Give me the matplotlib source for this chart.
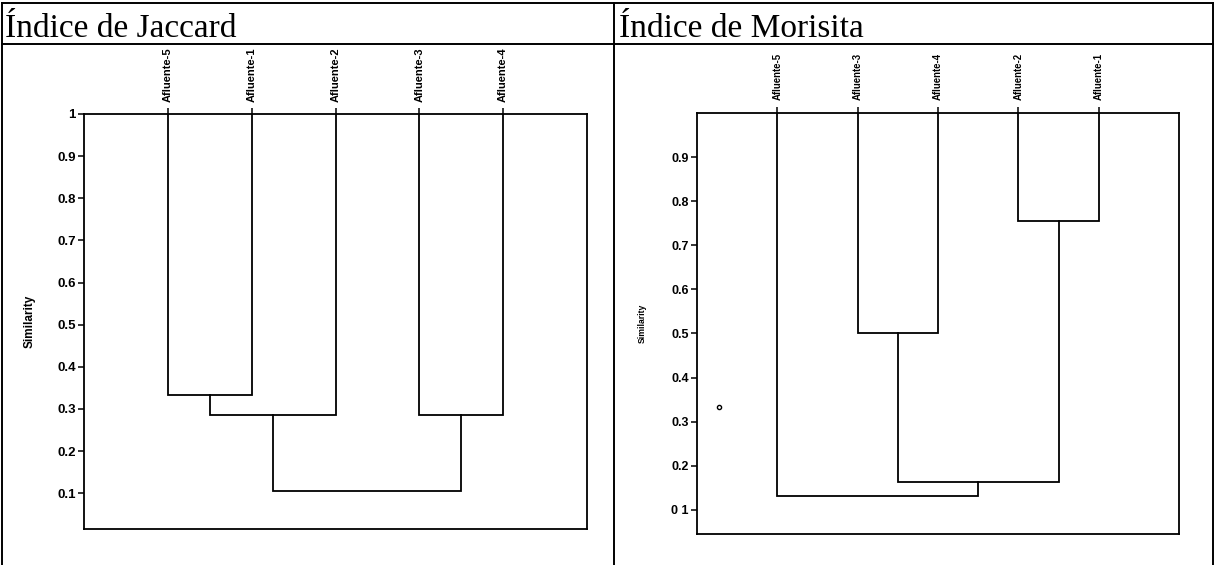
import matplotlib.pyplot as plt
from matplotlib.lines import Line2D

# leaf order (left to right) and merges (child a, child b, similarity)
jac_leaves = ["Afluente-5", "Afluente-1", "Afluente-2", "Afluente-3", "Afluente-4"]
jac_merges = [(0, 1, 0.333), (5, 2, 0.286), (3, 4, 0.286), (6, 7, 0.105)]
jac_ticks = [0.1, 0.2, 0.3, 0.4, 0.5, 0.6, 0.7, 0.8, 0.9, 1.0]
jac_ticklabels = ["0.1", "0.2", "0.3", "0.4", "0.5", "0.6", "0.7", "0.8", "0.9", "1"]

mor_leaves = ["Afluente-5", "Afluente-3", "Afluente-4", "Afluente-2", "Afluente-1"]
mor_merges = [(1, 2, 0.5), (3, 4, 0.755), (5, 6, 0.164), (0, 7, 0.132)]
mor_ticks = [0.1, 0.2, 0.3, 0.4, 0.5, 0.6, 0.7, 0.8, 0.9]
mor_ticklabels = ["0 1", "0.2", "0.3", "0.4", "0.5", "0.6", "0.7", "0.8", "0.9"]
mor_speck = (0.27, 0.334)

W, H = 1215, 565
fig = plt.figure(figsize=(W / 100, H / 100), dpi=100)


def box(x0, y0, x1, y1):
    # pixel coords from top-left -> figure fraction
    return [x0 / W, 1 - y1 / H, (x1 - x0) / W, (y1 - y0) / H]


def line(x0, y0, x1, y1, lw=1.4, c="black"):
    fig.add_artist(Line2D([x0 / W, x1 / W], [1 - y0 / H, 1 - y1 / H],
                          transform=fig.transFigure, color=c, lw=lw))


# table frame
line(2, 3, 1213, 3)
line(2, 44, 1213, 44)
line(2, 3, 2, 565)
line(614, 3, 614, 565)
line(1213, 3, 1213, 565)

fig.text(5 / W, 1 - 37 / H, "Índice de Jaccard", family="Liberation Serif",
         fontsize=24, va="baseline")
fig.text(619 / W, 1 - 37 / H, "Índice de Morisita", family="Liberation Serif",
         fontsize=24, va="baseline")


def dendro(ax, leaves, merges, top):
    pos = list(range(1, len(leaves) + 1))
    hgt = [top] * len(leaves)
    for a, b, h in merges:
        ax.plot([pos[a], pos[a], pos[b], pos[b]], [hgt[a], h, h, hgt[b]],
                color="black", lw=1.3, solid_joinstyle="miter")
        pos.append((pos[a] + pos[b]) / 2)
        hgt.append(h)


def style(ax, leaves, ticks, ticklabels, ylim, label_size, tick_size, ylab_size):
    ax.set_xlim(0, 6)
    ax.set_ylim(*ylim)
    ax.xaxis.tick_top()
    ax.set_xticks(range(1, len(leaves) + 1))
    ax.set_xticklabels(leaves, rotation=90, family="Liberation Sans",
                       fontsize=label_size, fontweight="bold")
    ax.set_yticks(ticks)
    ax.set_yticklabels(ticklabels, family="Liberation Sans", fontsize=tick_size,
                       fontweight="bold")
    ax.tick_params(direction="out", length=4, width=1.1, pad=2)
    ax.tick_params(axis="x", pad=5)
    for s in ax.spines.values():
        s.set_linewidth(1.3)
    ax.set_ylabel("Similarity", family="Liberation Sans", fontsize=ylab_size,
                  fontweight="bold")


ax1 = fig.add_axes(box(84, 114, 587, 529))
dendro(ax1, jac_leaves, jac_merges, 1.0)
style(ax1, jac_leaves, jac_ticks, jac_ticklabels, (0.015, 1.0), 8.0, 9.5, 8.5)
ax1.yaxis.set_label_coords(-0.097, 0.5)

ax2 = fig.add_axes(box(697, 113, 1179, 534))
dendro(ax2, mor_leaves, mor_merges, 1.0)
style(ax2, mor_leaves, mor_ticks, mor_ticklabels, (0.045, 1.0), 6.9, 9, 6.2)
ax2.yaxis.set_label_coords(-0.104, 0.5)
ax2.plot(*mor_speck, marker="o", ms=3, mfc="white", mec="black", mew=1)

fig.savefig("out.png", dpi=100)
